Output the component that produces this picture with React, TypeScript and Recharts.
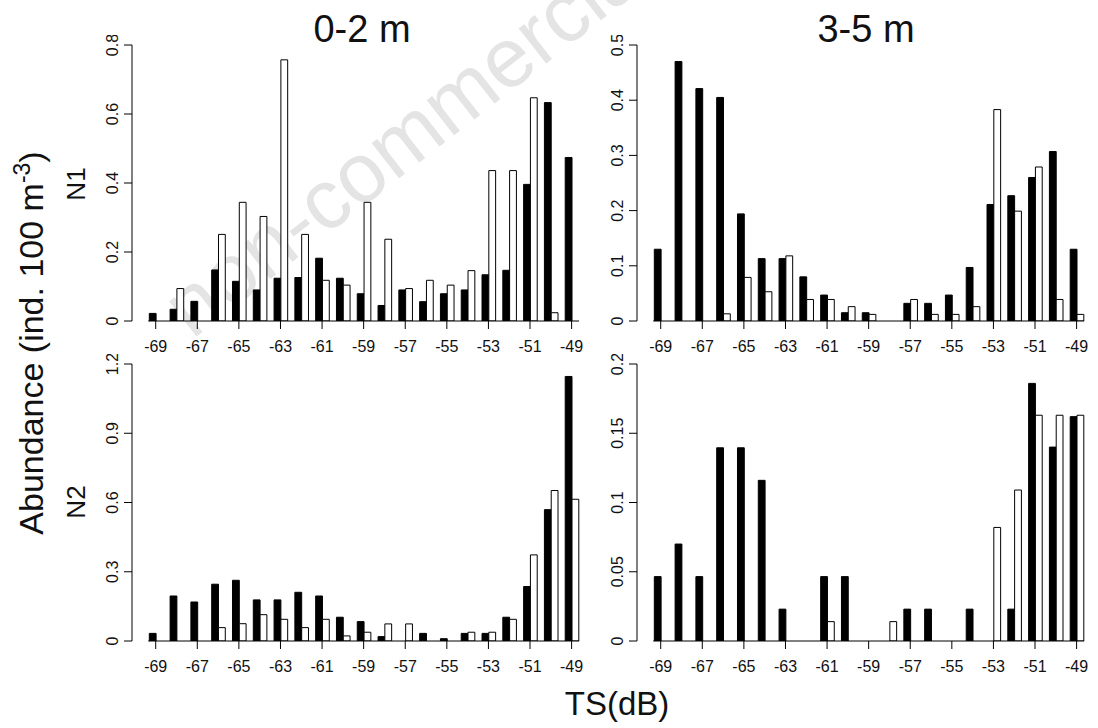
import React from "react";
import { BarChart, Bar, XAxis, YAxis, ReferenceLine } from "recharts";

// TS bins (dB) and labelled ticks
const tsBins = [-69, -68, -67, -66, -65, -64, -63, -62, -61, -60, -59, -58, -57, -56, -55, -54, -53, -52, -51, -50, -49];
const tsTicks = [-69, -67, -65, -63, -61, -59, -57, -55, -53, -51, -49];

// N1, 0-2 m
const n1ShallowBlack = [0.022, 0.034, 0.057, 0.148, 0.115, 0.09, 0.124, 0.126, 0.182, 0.124, 0.079, 0.045, 0.09, 0.056, 0.079, 0.09, 0.134, 0.147, 0.396, 0.633, 0.474];
const n1ShallowWhite = [0, 0.094, 0, 0.251, 0.344, 0.303, 0.757, 0.251, 0.118, 0.104, 0.344, 0.237, 0.094, 0.118, 0.104, 0.146, 0.436, 0.436, 0.647, 0.024, 0];

// N1, 3-5 m
const n1DeepBlack = [0.13, 0.47, 0.421, 0.405, 0.194, 0.113, 0.113, 0.08, 0.047, 0.015, 0.015, 0, 0.032, 0.032, 0.047, 0.097, 0.211, 0.227, 0.26, 0.307, 0.13];
const n1DeepWhite = [0, 0, 0, 0.013, 0.079, 0.053, 0.118, 0.039, 0.039, 0.026, 0.012, 0, 0.039, 0.012, 0.012, 0.026, 0.383, 0.199, 0.279, 0.039, 0.012];

// N2, 0-2 m
const n2ShallowBlack = [0.033, 0.195, 0.169, 0.246, 0.263, 0.178, 0.178, 0.211, 0.195, 0.103, 0.084, 0.019, 0, 0.033, 0.01, 0.033, 0.033, 0.103, 0.236, 0.569, 1.146];
const n2ShallowWhite = [0, 0, 0, 0.058, 0.075, 0.114, 0.094, 0.058, 0.094, 0.022, 0.038, 0.074, 0.074, 0, 0, 0.038, 0.038, 0.094, 0.373, 0.652, 0.614];

// N2, 3-5 m
const n2DeepBlack = [0.0465, 0.07, 0.0465, 0.1395, 0.1395, 0.116, 0.023, 0, 0.0465, 0.0465, 0, 0, 0.023, 0.023, 0, 0.023, 0, 0.023, 0.186, 0.14, 0.162];
const n2DeepWhite = [0, 0, 0, 0, 0, 0, 0, 0, 0.014, 0, 0, 0.014, 0, 0, 0, 0, 0.082, 0.109, 0.163, 0.163, 0.163];

const n1ShallowTicks = [0, 0.2, 0.4, 0.6, 0.8];
const n1DeepTicks = [0, 0.1, 0.2, 0.3, 0.4, 0.5];
const n2ShallowTicks = [0, 0.3, 0.6, 0.9, 1.2];
const n2DeepTicks = [0, 0.05, 0.1, 0.15, 0.2];

const FONT = '"Liberation Sans", Arial, Helvetica, sans-serif';
const INK = "#111";
const TICK_FONT = 16;

function buildRows(black: number[], white: number[]) {
  return tsBins.map((ts, i) => ({ ts, black: black[i], white: white[i] }));
}

// R-style y tick labels: rotated, reading bottom to top
function YTick(props: any) {
  const { x, y, payload } = props;
  return (
    <text
      x={x}
      y={y}
      transform={`rotate(-90 ${x} ${y})`}
      textAnchor="middle"
      style={{ fontSize: TICK_FONT, fontFamily: FONT, fill: INK }}
    >
      {String(payload.value)}
    </text>
  );
}

function XTick(props: any) {
  const { x, y, payload } = props;
  return (
    <text
      x={x}
      y={y}
      dy="0.72em"
      textAnchor="middle"
      style={{ fontSize: TICK_FONT, fontFamily: FONT, fill: INK }}
    >
      {String(payload.value)}
    </text>
  );
}

function Panel({
  left,
  top,
  plotH,
  black,
  white,
  yTicks,
}: {
  left: number;
  top: number;
  plotH: number;
  black: number[];
  white: number[];
  yTicks: number[];
}) {
  const data = buildRows(black, white);
  const yMax = yTicks[yTicks.length - 1];
  return (
    <div style={{ position: "absolute", left, top }}>
      <BarChart
        width={507}
        height={10 + plotH + 40}
        data={data}
        margin={{ top: 10, right: 5, bottom: 0, left: 0 }}
        barGap={0}
        barSize={6.8}
      >
        <XAxis
          dataKey="ts"
          type="number"
          domain={[-70.14, -48.5]}
          allowDataOverflow
          ticks={tsTicks}
          interval={0}
          axisLine={false}
          stroke="#000"
          tickLine={{ stroke: "#000" }}
          tickSize={8}
          tickMargin={11}
          height={40}
          tick={(p: any) => <XTick {...p} />}
        />
        <YAxis
          type="number"
          domain={[0, yMax]}
          allowDataOverflow
          ticks={yTicks}
          interval={0}
          width={52}
          stroke="#000"
          axisLine={{ stroke: "#000" }}
          tickLine={{ stroke: "#000" }}
          tickSize={8}
          tickMargin={6}
          tick={(p: any) => <YTick {...p} />}
        />
        <Bar dataKey="black" fill="#000" stroke="#000" strokeWidth={1} isAnimationActive={false} />
        <Bar dataKey="white" fill="#fff" stroke="#000" strokeWidth={1} isAnimationActive={false} />
        <ReferenceLine
          segment={[
            { x: -69.36, y: 0 },
            { x: -48.64, y: 0 },
          ]}
          stroke="#000"
          strokeWidth={1}
        />
      </BarChart>
    </div>
  );
}

export default function App() {
  return (
    <div
      style={{
        position: "absolute",
        left: 0,
        top: 0,
        width: 1098,
        height: 728,
        background: "#fff",
        fontFamily: FONT,
        overflow: "hidden",
      }}
    >
      {/* faint watermark behind the panels */}
      <svg width={1098} height={728} style={{ position: "absolute", left: 0, top: 0 }}>
        <text
          x={192}
          y={340}
          transform="rotate(-38 192 340)"
          fontSize={84}
          fontFamily={FONT}
          fill="#e4e4e4"
        >
          non-commercial
        </text>
      </svg>

      <Panel left={80} top={35} plotH={276} black={n1ShallowBlack} white={n1ShallowWhite} yTicks={n1ShallowTicks} />
      <Panel left={585} top={35} plotH={276} black={n1DeepBlack} white={n1DeepWhite} yTicks={n1DeepTicks} />
      <Panel left={80} top={354} plotH={277} black={n2ShallowBlack} white={n2ShallowWhite} yTicks={n2ShallowTicks} />
      <Panel left={585} top={354} plotH={277} black={n2DeepBlack} white={n2DeepWhite} yTicks={n2DeepTicks} />

      {/* titles and outer labels */}
      <svg
        width={1098}
        height={728}
        style={{ position: "absolute", left: 0, top: 0, pointerEvents: "none" }}
      >
        <text x={362} y={42} textAnchor="middle" fontSize={38} fontFamily={FONT} fill={INK}>
          0-2 m
        </text>
        <text x={866} y={42} textAnchor="middle" fontSize={38} fontFamily={FONT} fill={INK}>
          3-5 m
        </text>
        <text
          x={43}
          y={343}
          transform="rotate(-90 43 343)"
          textAnchor="middle"
          fontSize={34}
          fontFamily={FONT}
          fill={INK}
        >
          Abundance (ind. 100 m
          <tspan dy={-13} fontSize={23}>
            -3
          </tspan>
          <tspan dy={13}>)</tspan>
        </text>
        <text
          x={85}
          y={184}
          transform="rotate(-90 85 184)"
          textAnchor="middle"
          fontSize={26}
          fontFamily={FONT}
          fill={INK}
        >
          N1
        </text>
        <text
          x={85}
          y={502}
          transform="rotate(-90 85 502)"
          textAnchor="middle"
          fontSize={26}
          fontFamily={FONT}
          fill={INK}
        >
          N2
        </text>
        <text x={617} y={715} textAnchor="middle" fontSize={33} fontFamily={FONT} fill={INK}>
          TS(dB)
        </text>
      </svg>
    </div>
  );
}
